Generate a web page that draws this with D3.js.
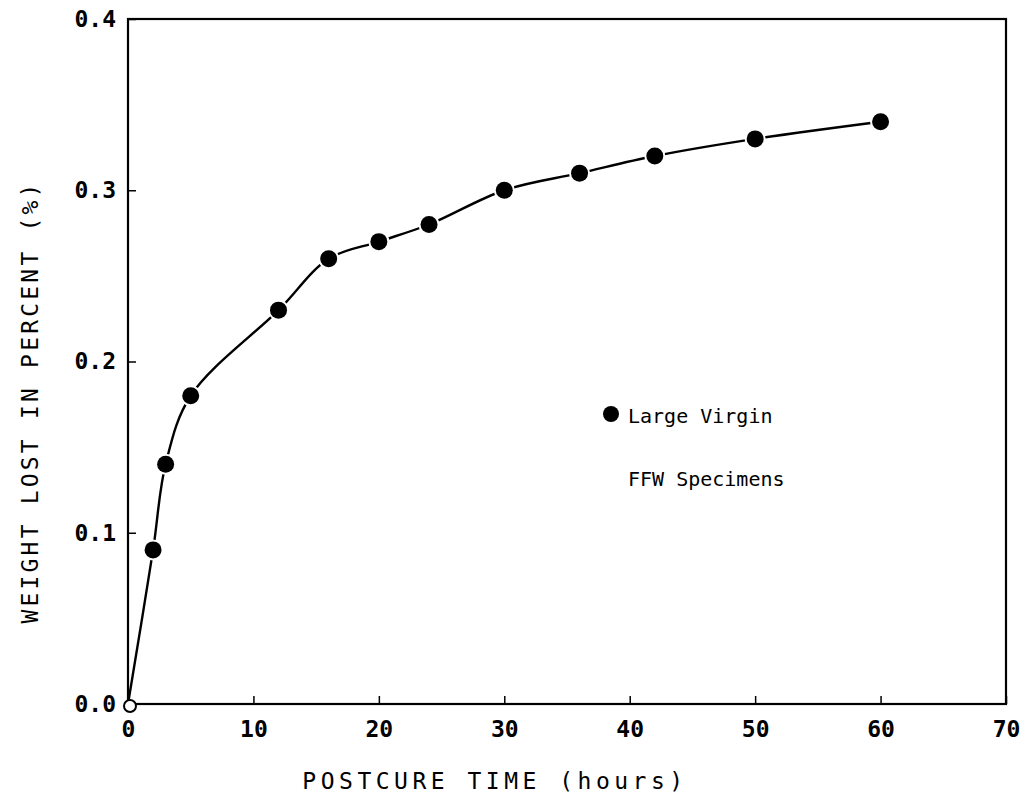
<!DOCTYPE html>
<html>
<head>
<meta charset="utf-8">
<script src="https://cdn.jsdelivr.net/npm/d3@7"></script>
<style>
  html, body { margin: 0; padding: 0; background: #fff; }
  svg { display: block; }
  text { font-family: "DejaVu Sans Mono", "Liberation Mono", monospace; fill: #000; }
</style>
</head>
<body>
<svg id="chart" width="1022" height="796"></svg>
<script>
// ---- data ----
const hours   = [2, 3, 5, 12, 16, 20, 24, 30, 36, 42, 50, 60];
const weightLost = [0.09, 0.14, 0.18, 0.23, 0.26, 0.27, 0.28, 0.30, 0.31, 0.32, 0.33, 0.34];
const originPoint = [0, 0];
const xTicks = [0, 10, 20, 30, 40, 50, 60, 70];
const yTicks = [0.0, 0.1, 0.2, 0.3, 0.4];
const xTitle = "POSTCURE TIME (hours)";
const yTitle = "WEIGHT LOST IN PERCENT (%)";
const legendLines = ["Large Virgin", "FFW Specimens"];

// ---- layout ----
const svg = d3.select("#chart");
const L = 128, R = 1006, T = 19, B = 704;
const x = d3.scaleLinear().domain([0, 70]).range([L, R]);
const y = d3.scaleLinear().domain([0, 0.4]).range([B, T]);

// frame
svg.append("rect").attr("x", L).attr("y", T).attr("width", R - L).attr("height", B - T)
  .attr("fill", "none").attr("stroke", "#000").attr("stroke-width", 2.2);

// x axis ticks (inward)
const xAxis = d3.axisBottom(x).tickValues(xTicks).tickSizeInner(-8).tickSizeOuter(0)
  .tickPadding(17).tickFormat(d3.format("d"));
const gx = svg.append("g").attr("transform", `translate(0,${B})`).call(xAxis);
gx.select(".domain").remove();
gx.selectAll(".tick line").attr("stroke", "#000").attr("stroke-width", 1.5);
gx.selectAll(".tick text").attr("font-size", 23).attr("font-weight", "bold")
  .attr("font-family", "DejaVu Sans Mono").attr("fill", "#000");

// y axis ticks (inward)
const yAxis = d3.axisLeft(y).tickValues(yTicks).tickSizeInner(-8).tickSizeOuter(0)
  .tickPadding(12).tickFormat(d3.format(".1f"));
const gy = svg.append("g").attr("transform", `translate(${L},0)`).call(yAxis);
gy.select(".domain").remove();
gy.selectAll(".tick line").attr("stroke", "#000").attr("stroke-width", 1.5);
gy.selectAll(".tick text").attr("font-size", 23).attr("font-weight", "bold")
  .attr("font-family", "DejaVu Sans Mono").attr("fill", "#000");

// axis titles
svg.append("text").attr("x", 495).attr("y", 789).attr("text-anchor", "middle")
  .attr("font-size", 23).attr("letter-spacing", 4.5).text(xTitle);
svg.append("text").attr("transform", "translate(38,402) rotate(-90)").attr("text-anchor", "middle")
  .attr("font-size", 23).attr("letter-spacing", 3.2).text(yTitle);

// curve
const pts = [originPoint].concat(hours.map((h, i) => [h, weightLost[i]]));
const line = d3.line().x(d => x(d[0])).y(d => y(d[1])).curve(d3.curveCatmullRom.alpha(0.5));
svg.append("path").datum(pts).attr("d", line).attr("fill", "none")
  .attr("stroke", "#000").attr("stroke-width", 2.4);

// markers
svg.append("g").selectAll("circle").data(hours).join("circle")
  .attr("cx", (d) => x(d)).attr("cy", (d, i) => y(weightLost[i])).attr("r", 8.5)
  .attr("fill", "#000").attr("stroke", "#fff").attr("stroke-width", 4).attr("paint-order", "stroke");

// origin open marker
svg.append("circle").attr("cx", x(originPoint[0]) + 2).attr("cy", y(originPoint[1]) + 2).attr("r", 6)
  .attr("fill", "#fff").attr("stroke", "#000").attr("stroke-width", 2);

// legend
svg.append("circle").attr("cx", 611).attr("cy", 414).attr("r", 8).attr("fill", "#000");
svg.append("text").attr("x", 628).attr("y", 423).attr("font-size", 20).text(legendLines[0]);
svg.append("text").attr("x", 628).attr("y", 486).attr("font-size", 20).text(legendLines[1]);
</script>
</body>
</html>
